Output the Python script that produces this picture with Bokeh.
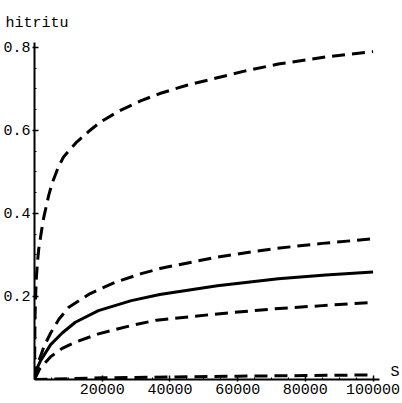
from bokeh.plotting import figure
from bokeh.models import FixedTicker, NumeralTickFormatter, LinearAxis
from bokeh.embed import file_html
from bokeh.resources import INLINE

# S values and hit ratio readings for each curve
s_top = [0, 150, 500, 970, 1260, 2240, 2720, 4180, 5160, 7100, 8570, 12460,
         16350, 19400, 25200, 31500, 37000, 45000, 54000, 62000, 72000, 86000,
         100000]
v_top = [0, 0.15, 0.24, 0.291, 0.315, 0.367, 0.39, 0.443, 0.472, 0.513, 0.536,
         0.572, 0.600, 0.62, 0.648, 0.672, 0.689, 0.709, 0.727, 0.743, 0.760,
         0.777, 0.79]

s_upper = [0, 1000, 2830, 4770, 7200, 10130, 16440, 23740, 31540, 37380, 53930,
           70460, 85000, 100000]
v_upper = [0, 0.038, 0.080, 0.112, 0.145, 0.174, 0.207, 0.234, 0.255, 0.268, 0.295,
           0.315, 0.328, 0.339]

s_mid = [0, 800, 1840, 4770, 8180, 12060, 18880, 28600, 37000, 54000, 72000,
         86000, 100000]
v_mid = [0, 0.028, 0.046, 0.084, 0.112, 0.138, 0.166, 0.190, 0.205, 0.226, 0.243,
         0.252, 0.259]

s_lower = [0, 1500, 4770, 8180, 12060, 18880, 28600, 36000, 54000, 70500, 85000,
           100000]
v_lower = [0, 0.025, 0.055, 0.075, 0.090, 0.110, 0.130, 0.143, 0.158, 0.170, 0.178,
           0.186]

s_bottom = [0, 20000, 40000, 60000, 80000, 100000]
v_bottom = [0, 0.004, 0.006, 0.008, 0.0095, 0.011]

x_ticks = [20000, 40000, 60000, 80000, 100000]
y_ticks = [0.2, 0.4, 0.6, 0.8]

FONT = "Liberation Mono"
FONT_SIZE = "15px"

p = figure(width=402, height=403, output_backend="svg", toolbar_location=None,
           x_range=(0, 101900), y_range=(0, 0.812),
           min_border_left=32, min_border_right=21, min_border_top=42,
           min_border_bottom=24)
p.outline_line_color = None
p.grid.visible = False
p.background_fill_color = "white"
p.border_fill_color = "white"

# y-axis name written above the axis, as a left-aligned title
p.title.text = "hitritu"
p.title.align = "left"
p.title.offset = -29
p.title.standoff = 22
p.title.text_font = FONT
p.title.text_font_size = FONT_SIZE
p.title.text_font_style = "normal"
p.title.text_color = "black"

for ax in (p.xaxis[0], p.yaxis[0]):
    ax.axis_line_width = 2
    ax.axis_line_color = "black"
    ax.major_tick_in = 4
    ax.major_tick_out = 2
    ax.minor_tick_in = 2
    ax.minor_tick_out = 0
    ax.major_tick_line_width = 1.5
    ax.minor_tick_line_width = 1
    ax.major_label_text_font = FONT
    ax.major_label_text_font_size = FONT_SIZE
    ax.major_label_text_color = "black"
    ax.major_label_standoff = 2

p.xaxis.ticker = FixedTicker(ticks=x_ticks,
                             minor_ticks=list(range(5000, 101000, 5000)))
p.xaxis.formatter = NumeralTickFormatter(format="0")
p.yaxis.ticker = FixedTicker(ticks=y_ticks,
                             minor_ticks=[i * 0.05 for i in range(1, 17)])

# x-axis name at the right end of the axis
s_axis = LinearAxis(ticker=FixedTicker(ticks=[0.017], minor_ticks=[]),
                    major_label_overrides={0.017: "S"})
s_axis.axis_line_color = None
s_axis.major_tick_line_color = None
s_axis.minor_tick_line_color = None
s_axis.major_tick_out = 0
s_axis.major_tick_in = 0
s_axis.major_label_standoff = 11
s_axis.major_label_text_font = FONT
s_axis.major_label_text_font_size = FONT_SIZE
s_axis.major_label_text_color = "black"
p.add_layout(s_axis, "right")

dash = "13 7"
p.line(s_top, v_top, line_color="black", line_width=3, line_dash=dash)
p.line(s_upper, v_upper, line_color="black", line_width=3, line_dash=dash)
p.line(s_mid, v_mid, line_color="black", line_width=3)
p.line(s_lower, v_lower, line_color="black", line_width=3, line_dash=dash)
p.line(s_bottom, v_bottom, line_color="black", line_width=3, line_dash=dash)

open("out.html", "w").write(file_html(p, INLINE))
